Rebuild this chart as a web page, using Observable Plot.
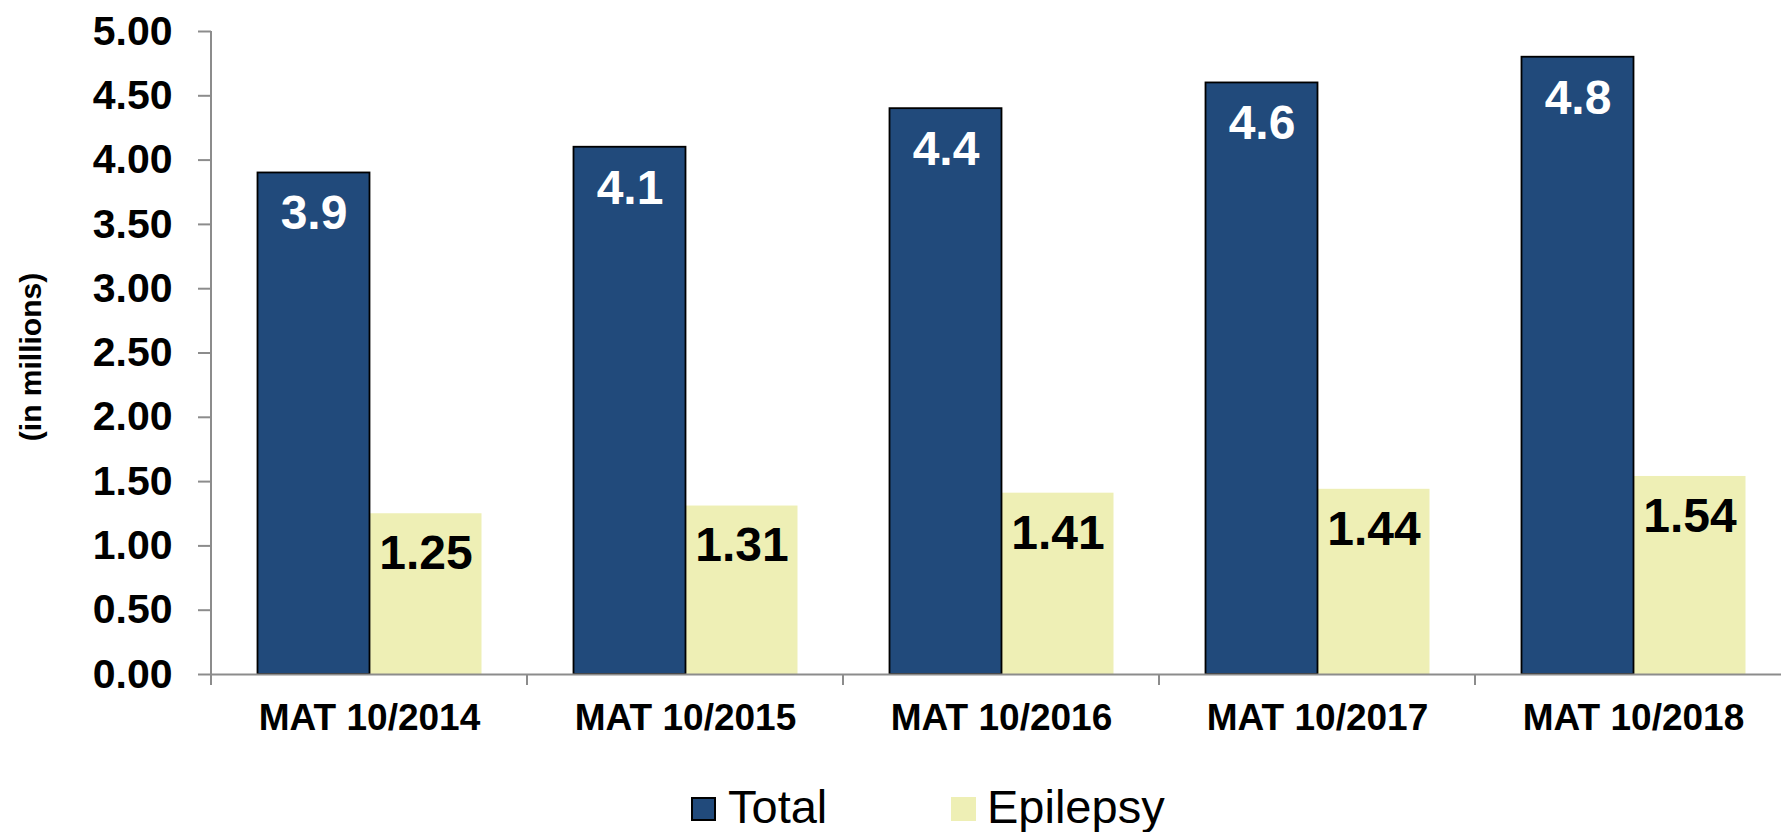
<!DOCTYPE html>
<html>
<head>
<meta charset="utf-8">
<script src="https://cdn.jsdelivr.net/npm/d3@7"></script>
<script src="https://cdn.jsdelivr.net/npm/@observablehq/plot@0.6"></script>
<style>
  html, body { margin: 0; padding: 0; background: #fff; }
  body { width: 1781px; height: 832px; overflow: hidden; font-family: "Liberation Sans", Arial, sans-serif; }
  #chart svg { display: block; }
  .legend { position: relative; height: 67px; width: 1781px; }
  .legend .swatch { position: absolute; width: 25px; height: 24px; box-sizing: border-box; }
  .legend .label { position: absolute; font-size: 47px; line-height: 47px; color: #000; white-space: nowrap; }
</style>
</head>
<body>
<div id="chart"></div>
<div class="legend" id="legend"></div>
<script>
// Moving annual totals, in millions
const periods = ["MAT 10/2014", "MAT 10/2015", "MAT 10/2016", "MAT 10/2017", "MAT 10/2018"];
const seriesNames = ["Total", "Epilepsy"];
const totalValues = [3.9, 4.1, 4.4, 4.6, 4.8];
const epilepsyValues = [1.25, 1.31, 1.41, 1.44, 1.54];
const yTicks = [0, 0.5, 1, 1.5, 2, 2.5, 3, 3.5, 4, 4.5, 5];
const seriesColors = ["#214A7B", "#EEEFB5"];
const yTitle = "(in millions)";

const rows = periods.flatMap((p, i) => [
  {period: p, series: seriesNames[0], value: totalValues[i]},
  {period: p, series: seriesNames[1], value: epilepsyValues[i]}
]);
const totals = rows.filter(d => d.series === seriesNames[0]);
const epilepsy = rows.filter(d => d.series === seriesNames[1]);

const axisGray = "#8c8c8c";
const font = "'Liberation Sans', Arial, sans-serif";

const chart = Plot.plot({
  width: 1781,
  height: 765,
  marginTop: 31,
  marginBottom: 91,
  marginLeft: 210.5,
  marginRight: -9.5,
  style: {fontFamily: font, background: "white", color: "black"},
  fx: {domain: periods, padding: 0},
  x: {domain: seriesNames, paddingInner: 0, paddingOuter: 0.4, axis: null},
  y: {domain: [0, 5]},
  color: {domain: seriesNames, range: seriesColors},
  marks: [
    Plot.barY(epilepsy, {fx: "period", x: "series", y: "value", fill: "series"}),
    Plot.barY(totals, {fx: "period", x: "series", y: "value", fill: "series", stroke: "black", strokeWidth: 1.8}),
    Plot.ruleY([0], {stroke: axisGray, strokeWidth: 2}),
    Plot.axisY({
      ticks: yTicks, tickFormat: d3.format(".2f"), tickSize: 13, tickPadding: 26,
      fontSize: 41, fontWeight: "bold", label: null, stroke: axisGray, strokeWidth: 2, fill: "black"
    }),
    Plot.axisFx({
      anchor: "bottom", tickSize: 0, tickPadding: 29,
      fontSize: 37, fontWeight: "bold", label: null, fill: "black"
    }),
    Plot.text(totals, {
      fx: "period", x: "series", y: "value", text: d => String(d.value),
      dy: 41, fill: "white", fontSize: 48, fontWeight: "bold", lineAnchor: "middle"
    }),
    Plot.text(epilepsy, {
      fx: "period", x: "series", y: "value", text: d => String(d.value),
      dy: 40, fill: "black", fontSize: 48, fontWeight: "bold", lineAnchor: "middle"
    }),
    Plot.text([yTitle], {
      fx: [periods[0]], text: d => d, frameAnchor: "left", textAnchor: "middle",
      lineAnchor: "middle", rotate: -90,
      dx: -180.5, dy: 4, fontSize: 30, fontWeight: "bold", fill: "black"
    })
  ]
});

// Axis line and category boundary ticks, placed from the plot's own scales
const fxScale = chart.scale("fx");
const yScale = chart.scale("y");
const y0 = yScale.apply(0);
const yTop = yScale.apply(5);
const edges = periods.map(p => fxScale.apply(p)).concat([fxScale.apply(periods[periods.length - 1]) + fxScale.step]);
const g = d3.select(chart).append("g").attr("stroke", axisGray).attr("stroke-width", 2);
g.append("line").attr("x1", edges[0]).attr("x2", edges[0]).attr("y1", yTop).attr("y2", y0 + 11);
g.selectAll("line.edge").data(edges.slice(1)).join("line")
  .attr("class", "edge")
  .attr("x1", d => d).attr("x2", d => d).attr("y1", y0).attr("y2", y0 + 11);

document.getElementById("chart").append(chart);

// Legend
const legendItems = [
  {name: seriesNames[0], color: seriesColors[0], border: "2px solid #000", swatchLeft: 691, textLeft: 728},
  {name: seriesNames[1], color: seriesColors[1], border: "none", swatchLeft: 951, textLeft: 987}
];
const legend = d3.select("#legend");
legendItems.forEach(item => {
  legend.append("div").attr("class", "swatch")
    .style("left", item.swatchLeft + "px").style("top", "32px")
    .style("background", item.color).style("border", item.border);
  legend.append("div").attr("class", "label")
    .style("left", item.textLeft + "px").style("top", "18px")
    .text(item.name);
});
</script>
</body>
</html>
